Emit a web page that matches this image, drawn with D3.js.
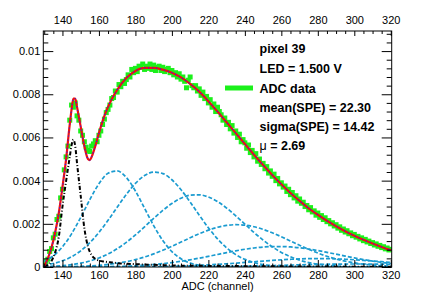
<!DOCTYPE html>
<html>
<head>
<meta charset="utf-8">
<title>pixel 39 ADC spectrum</title>
<style>
  body { margin: 0; background: #fff; }
  svg { display: block; font-family: "Liberation Sans", Arial, Helvetica, sans-serif; }
  .tick text { font-size: 11px; fill: #000; }
  .tick line { stroke: #000; }
  .legend text { font-size: 12.5px; font-weight: bold; }
</style>
<script src="https://cdn.jsdelivr.net/npm/d3@7"></script>
</head>
<body>
<script>
// ---- data (y values in units of 1e-4) ----
var adcFirst = 130;   // first histogram bin (ADC channel)
var adcData = [
  0.8, 2.5, 3.6, 7.2, 8.5, 13.5, 15.2, 22, 23.5, 32,
  36, 45, 51, 56, 68, 75, 74, 76, 70, 68,
  63, 61, 58, 55.5, 54, 53.5, 56, 57, 58.5, 58,
  61, 63, 66, 68.5, 71.5, 73, 75, 78, 78.5, 81.5,
  81, 84.5, 83.5, 86, 85, 86.8, 89, 88, 91.5, 90,
  92, 90.5, 93, 92.5, 94, 91.5, 93, 92, 94, 91.5,
  93.5, 91, 92.5, 93, 91, 92.5, 90.5, 91.5, 92, 90,
  91, 89, 90, 88, 89.5, 87, 88, 86, 83, 86.5,
  88, 84, 83, 84, 81.5, 82.5, 79.5, 81, 78, 79,
  76, 77.5, 74, 75.5, 72, 74, 72, 70.5, 68, 69,
  66, 67, 64, 65.5, 62, 63, 60, 61.5, 58, 59,
  57.5, 55, 56.5, 53, 54, 51, 52.5, 49, 50, 47.5,
  48, 45.5, 46.5, 43.5, 44.5, 42, 43, 40, 41, 38.5,
  39, 37, 37.5, 35, 36, 33.5, 34.5, 32, 33, 30.5,
  31.5, 29.5, 30, 28, 28.5, 26.5, 27.5, 25.5, 26, 24,
  25, 23, 23.8, 22, 22.8, 21, 21.5, 20, 20.5, 19,
  19.6, 18, 18.6, 17, 17.6, 16.2, 16.8, 15.4, 15.8, 14.5,
  15.1, 13.8, 14.2, 13, 13.5, 12.2, 12.8, 11.6, 12, 10.9,
  11.3, 10.2, 10.7, 9.6, 10, 9, 9.4, 8.4, 8.8, 7.9,
  8.2
];

// total fit
var fitX = [130, 132, 134, 136, 138, 140, 142, 144, 145, 146, 147, 148, 150, 152, 154, 155, 156, 158, 160, 163,
  166, 170, 175, 180, 185, 190, 195, 200, 205, 210, 215, 220, 225, 230, 235, 240, 245, 250, 255, 260,
  265, 270, 275, 280, 285, 290, 295, 300, 305, 310, 315, 320];
var fitY = [0.5, 4, 9, 16, 25, 37, 50, 66, 73, 78, 78, 74, 65, 56, 50, 49.5, 51, 56, 62, 70,
  76, 82, 87.5, 90.8, 92.2, 92.2, 91.4, 90, 87.8, 84.8, 81.2, 76.8, 72, 67, 62, 57, 52, 47.2, 42.6, 38.3,
  34.3, 30.6, 27.2, 24.2, 21.4, 18.9, 16.6, 14.5, 12.6, 10.9, 9.3, 7.8];

// pedestal component
var pedX = [130, 132, 134, 136, 138, 140, 142, 144, 145, 146, 147, 148, 150, 152, 154, 156, 158, 160, 163, 166,
  170, 175, 180, 190, 200, 220, 240, 260, 280, 300, 320];
var pedY = [0.3, 1, 2.8, 6.8, 14, 28, 39.8, 51, 56.5, 59, 56, 48, 33, 18, 9.4, 5.5, 3.8, 3, 2.5, 2.2,
  1.8, 1.5, 1.3, 1, 0.7, 0.5, 0.4, 0.3, 0.2, 0.15, 0.1];

// n photo-electron components, sampled every 5 channels from 130 to 320
var peX = [130, 135, 140, 145, 150, 155, 160, 165, 170, 175, 180, 185, 190, 195, 200, 205, 210, 215, 220, 225,
  230, 235, 240, 245, 250, 255, 260, 265, 270, 275, 280, 285, 290, 295, 300, 305, 310, 315, 320];
var pe1 = [2.63, 5.19, 9.36, 15.36, 22.94, 31.17, 38.55, 43.4, 44.48, 41.49, 35.22, 27.21, 19.16, 12.27, 7.14, 3.79, 1.83, 0.8, 0.32, 0.12,
  0.04, 0.01, 0, 0, 0, 0, 0, 0, 0, 0, 0, 0, 0, 0, 0, 0, 0, 0, 0];
var pe2 = [0.88, 1.62, 2.85, 4.75, 7.5, 11.26, 16.01, 21.6, 27.67, 33.61, 38.74, 42.36, 43.95, 43.27, 40.41, 35.8, 30.1, 24, 18.16, 13.04,
  8.88, 5.74, 3.52, 2.05, 1.13, 0.59, 0.29, 0.14, 0.06, 0.03, 0.01, 0, 0, 0, 0, 0, 0, 0, 0];
var pe3 = [0.21, 0.37, 0.65, 1.09, 1.77, 2.76, 4.16, 6.04, 8.46, 11.42, 14.84, 18.61, 22.49, 26.2, 29.42, 31.85, 33.23, 33.43, 32.41, 30.3,
  27.3, 23.72, 19.86, 16.02, 12.47, 9.35, 6.76, 4.71, 3.17, 2.05, 1.28, 0.77, 0.45, 0.25, 0.13, 0.07, 0.04, 0.02, 0.01];
var pe4 = [0.04, 0.07, 0.11, 0.19, 0.32, 0.51, 0.78, 1.18, 1.74, 2.48, 3.44, 4.64, 6.08, 7.75, 9.6, 11.57, 13.55, 15.44, 17.09, 18.4,
  19.26, 19.6, 19.38, 18.65, 17.44, 15.86, 14.02, 12.04, 10.07, 8.18, 6.46, 4.96, 3.7, 2.69, 1.9, 1.3, 0.87, 0.56, 0.36];
var pe5 = [0.01, 0.01, 0.02, 0.03, 0.05, 0.08, 0.12, 0.19, 0.28, 0.41, 0.6, 0.84, 1.16, 1.56, 2.06, 2.65, 3.33, 4.1, 4.93, 5.8,
  6.66, 7.48, 8.21, 8.8, 9.23, 9.46, 9.48, 9.28, 8.89, 8.31, 7.6, 6.79, 5.94, 5.07, 4.23, 3.45, 2.75, 2.15, 1.63];
var pe6 = [0, 0, 0, 0, 0.01, 0.01, 0.02, 0.02, 0.04, 0.06, 0.08, 0.12, 0.17, 0.24, 0.33, 0.45, 0.59, 0.76, 0.97, 1.21,
  1.48, 1.78, 2.1, 2.42, 2.75, 3.06, 3.33, 3.57, 3.75, 3.86, 3.9, 3.87, 3.76, 3.59, 3.36, 3.08, 2.77, 2.45, 2.12];
var pe7 = [0, 0, 0, 0, 0, 0, 0, 0, 0, 0.01, 0.01, 0.02, 0.02, 0.03, 0.04, 0.06, 0.08, 0.11, 0.15, 0.19,
  0.25, 0.31, 0.39, 0.47, 0.56, 0.66, 0.77, 0.88, 0.99, 1.09, 1.18, 1.27, 1.33, 1.37, 1.4, 1.4, 1.37, 1.33, 1.27];
var peSeries = [pe1, pe2, pe3, pe4, pe5, pe6, pe7];

var xTicks = [140, 160, 180, 200, 220, 240, 260, 280, 300, 320];
var yTicks = [0, 0.002, 0.004, 0.006, 0.008, 0.01];
var yTickLabels = ["0", "0.002", "0.004", "0.006", "0.008", "0.01"];
var legendLines = ["pixel 39", "LED = 1.500 V", "ADC data", "mean(SPE) = 22.30", "sigma(SPE) = 14.42", "\u03bc = 2.69"];

var UNIT = 1e-4;

// ---- layout ----
var W = 436, H = 297;
var padL = 43.3, padR = 391.7, padT = 31, padB = 267;

var x = d3.scaleLinear().domain([129.5, 320.5]).range([padL, padR]);
var y = d3.scaleLinear().domain([0, 0.01093]).range([padB, padT]);

var svg = d3.select('body').append('svg')
  .attr('width', W).attr('height', H);

svg.append('clipPath').attr('id', 'clip')
  .append('rect').attr('x', padL).attr('y', padT)
  .attr('width', padR - padL).attr('height', padB - padT);

var plot = svg.append('g').attr('clip-path', 'url(#clip)');

var line = d3.line()
  .x(d => x(d[0])).y(d => y(d[1] * UNIT))
  .curve(d3.curveMonotoneX);

// data points
plot.append('g').selectAll('rect')
  .data(adcData)
  .join('rect')
  .attr('x', (d, i) => x(adcFirst + i) - 2.5)
  .attr('y', d => y(d * UNIT) - 2.5)
  .attr('width', 5).attr('height', 5)
  .attr('fill', '#1bf01b');

// single p.e. components
peSeries.forEach(function (s) {
  plot.append('path')
    .datum(peX.map((v, i) => [v, s[i]]))
    .attr('fill', 'none')
    .attr('stroke', '#1a9bd0')
    .attr('stroke-width', 1.7)
    .attr('stroke-dasharray', '4,2')
    .attr('d', line);
});

// pedestal
plot.append('path')
  .datum(pedX.map((v, i) => [v, pedY[i]]))
  .attr('fill', 'none')
  .attr('stroke', '#000')
  .attr('stroke-width', 2)
  .attr('stroke-dasharray', '4,2,1,2')
  .attr('d', line);

// total fit
var fitPts = fitX.map((v, i) => [v, fitY[i]]);
plot.append('path')
  .datum(fitPts)
  .attr('fill', 'none')
  .attr('stroke', '#f01010')
  .attr('stroke-width', 2.2)
  .attr('d', line);
plot.append('path')
  .datum(fitPts)
  .attr('fill', 'none')
  .attr('stroke', '#2020ff')
  .attr('stroke-width', 1.2)
  .attr('stroke-dasharray', '1,3')
  .attr('d', line);

// ---- axes ----
var xMinor = d3.range(130, 321, 5).filter(v => v % 20 !== 0);
var yMinor = d3.range(0, 0.011, 0.0004).filter((v, i) => i % 5 !== 0);

function axisG(axis, tx, ty) {
  var g = svg.append('g').attr('transform', 'translate(' + tx + ',' + ty + ')').call(axis);
  g.select('.domain').remove();
  return g;
}

axisG(d3.axisBottom(x).tickValues(xTicks).tickSize(-7).tickPadding(4.2).tickFormat(d3.format('d')), 0, padB);
axisG(d3.axisBottom(x).tickValues(xMinor).tickSize(-3.5).tickFormat(''), 0, padB);
axisG(d3.axisTop(x).tickValues(xTicks).tickSize(-5).tickPadding(7).tickFormat(d3.format('d')), 0, padT);
axisG(d3.axisTop(x).tickValues(xMinor).tickSize(-3).tickFormat(''), 0, padT);

axisG(d3.axisLeft(y).tickValues(yTicks).tickSize(-10).tickPadding(3)
  .tickFormat((d, i) => yTickLabels[i]), padL, 0);
axisG(d3.axisLeft(y).tickValues(yMinor).tickSize(-5).tickFormat(''), padL, 0);
axisG(d3.axisRight(y).tickValues(yTicks).tickSize(-10).tickFormat(''), padR, 0);
axisG(d3.axisRight(y).tickValues(yMinor).tickSize(-5).tickFormat(''), padR, 0);

svg.append('rect')
  .attr('x', padL).attr('y', padT)
  .attr('width', padR - padL).attr('height', padB - padT)
  .attr('fill', 'none').attr('stroke', '#000').attr('stroke-width', 1);

svg.append('text')
  .attr('x', (padL + padR) / 2).attr('y', 289.5)
  .attr('text-anchor', 'middle')
  .style('font-size', '11px')
  .text('ADC (channel)');

// ---- legend ----
var leg = svg.append('g').attr('class', 'legend');
var legY = [53, 73, 92.5, 112, 131, 150];
leg.selectAll('text')
  .data(legendLines)
  .join('text')
  .attr('x', 259.5)
  .attr('y', (d, i) => legY[i])
  .each(function (d) {
    var t = d3.select(this);
    if (d.charAt(0) === '\u03bc') {
      t.append('tspan').style('font-weight', 'normal').text('\u03bc');
      t.append('tspan').text(d.slice(1));
    } else {
      t.text(d);
    }
  });
leg.append('line')
  .attr('x1', 225).attr('x2', 253)
  .attr('y1', 88).attr('y2', 88)
  .attr('stroke', '#1bf01b').attr('stroke-width', 5);
</script>
</body>
</html>
